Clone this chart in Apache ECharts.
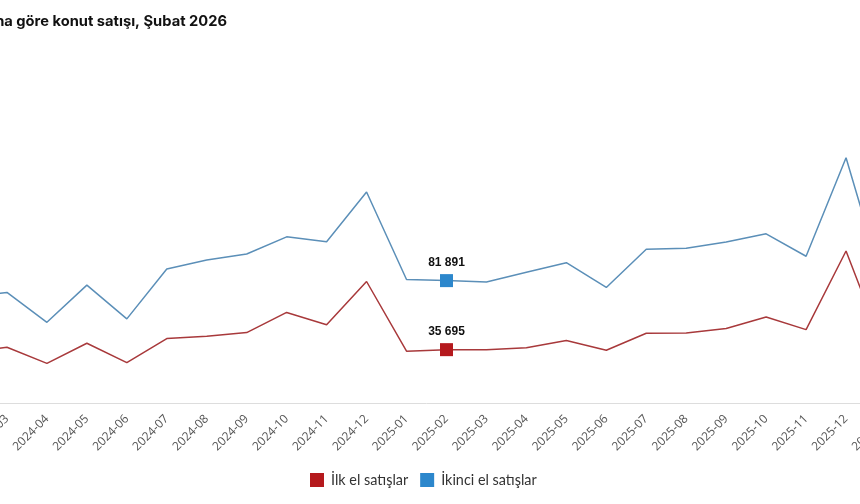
<!DOCTYPE html>
<html>
<head>
<meta charset="utf-8">
<script src="https://cdn.jsdelivr.net/npm/echarts@6/dist/echarts.min.js"></script>
<style>
html,body{margin:0;padding:0;width:860px;height:504px;overflow:hidden;background:#fff;}
#chart{position:absolute;left:-60px;top:0;width:980px;height:504px;}
</style>
</head>
<body>
<div id="chart"></div>
<script>
const categories = ['2024-02','2024-03','2024-04','2024-05','2024-06','2024-07','2024-08','2024-09','2024-10','2024-11','2024-12',
  '2025-01','2025-02','2025-03','2025-04','2025-05','2025-06','2025-07','2025-08','2025-09','2025-10','2025-11','2025-12','2026-01'];
const firstHandSales = [33800,37300,26500,40000,27000,43100,44700,47100,60600,52300,81300,
  34700,35695,35600,36900,41800,35300,46700,46800,49800,57600,49100,101700,32500];
const secondHandSales = [71000,74000,54000,78900,56300,89700,95700,99700,111200,107900,141200,
  82600,81891,80900,87500,93900,77300,102900,103500,107700,113200,98200,164100,73800];
const seriesNames = ['İlk el satışlar','İkinci el satışlar'];
const highlightCategory = '2025-02';
const titleText = 'Satış durumuna göre konut satışı, Şubat 2026';

function fmt(v){ return String(v).replace(/\B(?=(\d{3})+(?!\d))/g,' '); }

function buildData(values, markerColor){
  const hi = categories.indexOf(highlightCategory);
  return values.map((v,i)=> i===hi ? {
    value: v, symbol:'rect', symbolSize:13,
    itemStyle:{color:markerColor},
    label:{show:true, position:'top', distance:5, formatter:p=>fmt(p.value),
      fontFamily:'Liberation Sans', fontWeight:'bold', fontSize:12, color:'#111'}
  } : v);
}

const chart = echarts.init(document.getElementById('chart'));
chart.setOption({
  animation:false,
  title:{text:titleText, right:693, top:14, padding:0,
    textStyle:{fontFamily:'Inter', fontWeight:'bold', fontSize:14.7, color:'#111'}},
  legend:{data:seriesNames, left:370, top:473, padding:0, icon:'rect', itemWidth:14, itemHeight:14, itemGap:12,
    textStyle:{fontFamily:'Lato', fontSize:14.4, color:'#333', padding:[0,0,0,2]}},
  grid:{left:27, right:34, top:134, bottom:101, containLabel:false, outerBoundsMode:'none'},
  xAxis:{type:'category', data:categories, boundaryGap:false,
    axisLine:{lineStyle:{color:'#dddddd', width:1}}, axisTick:{show:false},
    axisLabel:{interval:0, rotate:45, margin:14, color:'#555', fontSize:12, fontFamily:'Open Sans'}},
  yAxis:{type:'value', min:0, max:180000, show:false, splitLine:{show:false}},
  series:[
    {name:seriesNames[0], type:'line', symbol:'none', showSymbol:true,
      itemStyle:{color:'#b5191d'}, lineStyle:{color:'#a8393b', width:1.5},
      data:buildData(firstHandSales,'#b5191d')},
    {name:seriesNames[1], type:'line', symbol:'none', showSymbol:true,
      itemStyle:{color:'#2c87cc'}, lineStyle:{color:'#5b8fb8', width:1.5},
      data:buildData(secondHandSales,'#2c87cc')}
  ]
});
</script>
</body>
</html>
